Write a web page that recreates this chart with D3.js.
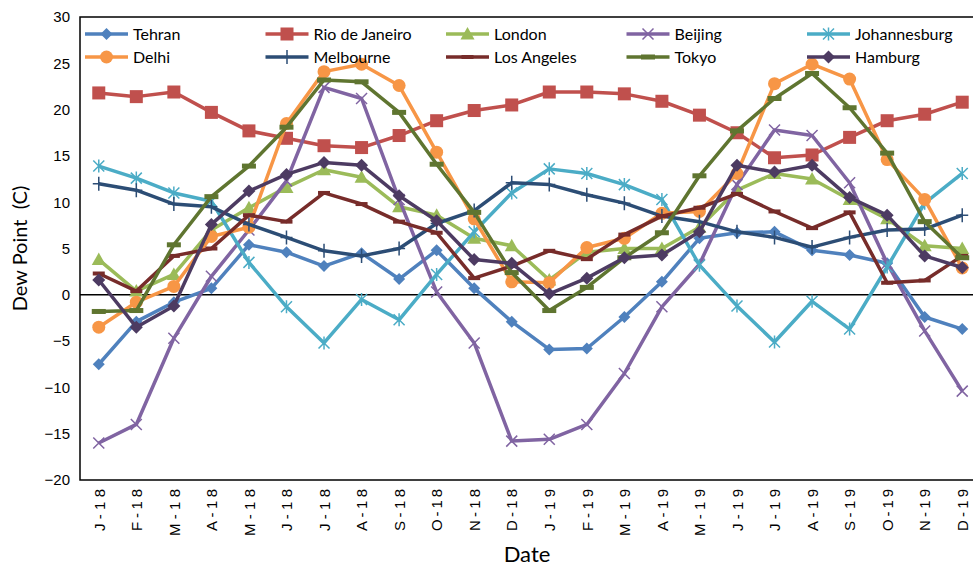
<!DOCTYPE html>
<html>
<head>
<meta charset="utf-8">
<script src="https://cdn.jsdelivr.net/npm/d3@7"></script>
<style>
  body { margin: 0; background: #fff; }
  svg { font-family: "Lato", "Open Sans", sans-serif; }
</style>
</head>
<body>
<svg id="chart"></svg>
<script>
const width = 973;
const height = 567;

const months = ["J-18", "F-18", "M-18", "A-18", "M-18", "J-18", "J-18", "A-18", "S-18", "O-18", "N-18", "D-18",
                "J-19", "F-19", "M-19", "A-19", "M-19", "J-19", "J-19", "A-19", "S-19", "O-19", "N-19", "D-19"];

const cities = ["Tehran", "Rio de Janeiro", "London", "Beijing", "Johannesburg",
                "Delhi", "Melbourne", "Los Angeles", "Tokyo", "Hamburg"];

const tehran = [-7.5, -2.9, -0.8, 0.7, 5.4, 4.6, 3.1, 4.5, 1.7, 4.8, 0.7, -2.9, -5.9, -5.8, -2.4, 1.4, 6.1, 6.7, 6.8, 4.8, 4.3, 3.4, -2.4, -3.7];
const rio = [21.8, 21.4, 21.9, 19.7, 17.7, 16.9, 16.1, 15.9, 17.2, 18.8, 19.9, 20.5, 21.9, 21.9, 21.7, 20.9, 19.4, 17.5, 14.8, 15.1, 17.0, 18.8, 19.5, 20.8];
const london = [3.8, 0.4, 2.2, 7.0, 9.4, 11.6, 13.5, 12.7, 9.5, 8.6, 6.1, 5.3, 1.6, 4.6, 5.0, 5.0, 7.3, 11.3, 13.1, 12.5, 10.3, 8.2, 5.3, 5.0];
const beijing = [-16.0, -14.0, -4.7, 2.0, 7.0, 12.3, 22.4, 21.2, 10.3, 0.3, -5.2, -15.8, -15.6, -14.0, -8.5, -1.3, 3.3, 11.9, 17.8, 17.2, 12.1, 3.4, -3.9, -10.4];
const johannesburg = [13.9, 12.6, 11.0, 10.1, 3.5, -1.3, -5.2, -0.5, -2.7, 2.2, 6.8, 11.0, 13.6, 13.1, 11.9, 10.3, 3.2, -1.2, -5.1, -0.7, -3.7, 3.0, 9.9, 13.1];
const delhi = [-3.5, -0.8, 0.9, 6.3, 7.3, 18.5, 24.1, 24.9, 22.6, 15.4, 8.2, 1.4, 1.3, 5.1, 6.1, 8.8, 9.0, 13.1, 22.8, 24.9, 23.3, 14.6, 10.3, 2.9];
const melbourne = [12.0, 11.3, 9.8, 9.5, 7.6, 6.2, 4.75, 4.2, 5.0, 7.7, 9.1, 12.1, 11.9, 10.8, 9.9, 8.5, 7.9, 6.8, 6.2, 5.15, 6.2, 7.0, 7.1, 8.6];
const losAngeles = [2.3, 0.4, 4.2, 5.0, 8.6, 7.9, 11.0, 9.8, 7.9, 6.7, 1.8, 3.1, 4.75, 3.85, 6.5, 8.5, 9.4, 10.9, 9.0, 7.2, 8.9, 1.3, 1.55, 4.2];
const tokyo = [-1.8, -1.7, 5.4, 10.6, 13.9, 18.1, 23.2, 23.0, 19.7, 14.1, 8.9, 2.4, -1.7, 0.8, 4.0, 6.7, 12.85, 17.7, 21.2, 23.9, 20.2, 15.3, 7.9, 4.0];
const hamburg = [1.6, -3.5, -1.2, 7.6, 11.2, 13.0, 14.3, 14.0, 10.7, 8.0, 3.8, 3.4, 0.1, 1.8, 4.0, 4.3, 6.8, 14.0, 13.25, 14.0, 10.5, 8.6, 4.2, 2.95];

const yTicks = [-20, -15, -10, -5, 0, 5, 10, 15, 20, 25, 30];

const seriesValues = [tehran, rio, london, beijing, johannesburg, delhi, melbourne, losAngeles, tokyo, hamburg];

// look of each series, in the same order as cities
const styles = [
    { color: "#4F81BD", marker: "diamond" },
    { color: "#C0504D", marker: "square" },
    { color: "#9BBB59", marker: "triangle" },
    { color: "#8064A2", marker: "x" },
    { color: "#4BACC6", marker: "star" },
    { color: "#F79646", marker: "circle" },
    { color: "#2C4D75", marker: "plus" },
    { color: "#772C2A", marker: "dash" },
    { color: "#5F7530", marker: "bar" },
    { color: "#4D3B62", marker: "diamond2" }
];

const series = cities.map((name, i) => ({
    name,
    values: seriesValues[i],
    color: styles[i].color,
    marker: styles[i].marker
}));

const plot = { left: 80, top: 17, right: 981, bottom: 480 };

const svg = d3.select("#chart")
    .attr("width", width)
    .attr("height", height);

const x = d3.scalePoint()
    .domain(d3.range(months.length))
    .range([plot.left, plot.right])
    .padding(0.5);

const y = d3.scaleLinear()
    .domain([-20, 30])
    .range([plot.bottom, plot.top]);

// plot frame
svg.append("rect")
    .attr("x", plot.left)
    .attr("y", plot.top)
    .attr("width", plot.right - plot.left)
    .attr("height", plot.bottom - plot.top)
    .attr("fill", "none")
    .attr("stroke", "#000")
    .attr("stroke-width", 1.5);

svg.append("line")
    .attr("x1", plot.left)
    .attr("x2", plot.right)
    .attr("y1", y(0))
    .attr("y2", y(0))
    .attr("stroke", "#000")
    .attr("stroke-width", 1.5);

const yAxis = svg.append("g")
    .attr("transform", `translate(${plot.left},0)`)
    .call(d3.axisLeft(y).tickValues(yTicks).tickSize(0).tickPadding(10));

yAxis.select(".domain").remove();
yAxis.selectAll("text")
    .style("font-size", "15px")
    .attr("fill", "#000");

// month labels: characters stretched apart like the original
const xAxis = svg.append("g")
    .attr("transform", `translate(0,${plot.bottom})`)
    .call(d3.axisBottom(x).tickSize(0).tickFormat(i => months[i]));

xAxis.select(".domain").remove();
xAxis.selectAll("text")
    .attr("transform", "rotate(-90)")
    .attr("x", -9)
    .attr("y", 0)
    .attr("dy", "0.35em")
    .attr("textLength", d => months[d][0] === "M" ? 47 : 42)
    .attr("lengthAdjust", "spacing")
    .style("text-anchor", "end")
    .style("font-size", "15px")
    .attr("fill", "#000");

svg.append("text")
    .attr("transform", "rotate(-90)")
    .attr("x", -(plot.top + plot.bottom) / 2)
    .attr("y", 27)
    .attr("text-anchor", "middle")
    .style("font-size", "20px")
    .style("white-space", "pre")
    .text("Dew Point  (C)");

svg.append("text")
    .attr("x", 527)
    .attr("y", 562)
    .attr("text-anchor", "middle")
    .style("font-size", "22px")
    .text("Date");

function drawMarker(g, type, color) {
    if (type === "diamond" || type === "diamond2") {
        const r = type === "diamond" ? 6 : 6.5;
        g.append("path")
            .attr("d", `M0,${-r}L${r},0L0,${r}L${-r},0Z`)
            .attr("fill", color);
    } else if (type === "square") {
        g.append("rect")
            .attr("x", -6.5).attr("y", -6.5)
            .attr("width", 13).attr("height", 13)
            .attr("fill", color);
    } else if (type === "triangle") {
        g.append("path")
            .attr("d", "M0,-7L7,5.5L-7,5.5Z")
            .attr("fill", color);
    } else if (type === "circle") {
        g.append("circle")
            .attr("r", 6.5)
            .attr("fill", color);
    } else if (type === "x") {
        g.append("path")
            .attr("d", "M-5.5,-5.5L5.5,5.5M-5.5,5.5L5.5,-5.5")
            .attr("stroke", color)
            .attr("stroke-width", 1.5);
    } else if (type === "star") {
        g.append("path")
            .attr("d", "M-5.5,-5.5L5.5,5.5M-5.5,5.5L5.5,-5.5M0,-6.5L0,6.5")
            .attr("stroke", color)
            .attr("stroke-width", 1.5);
    } else if (type === "plus") {
        g.append("path")
            .attr("d", "M-6,0L6,0M0,-7L0,7")
            .attr("stroke", color)
            .attr("stroke-width", 1.5);
    } else if (type === "dash") {
        g.append("rect")
            .attr("x", -6).attr("y", -2)
            .attr("width", 12).attr("height", 4)
            .attr("fill", color);
    } else if (type === "bar") {
        g.append("rect")
            .attr("x", -7).attr("y", -2.5)
            .attr("width", 14).attr("height", 5)
            .attr("fill", color);
    }
}

const line = d3.line()
    .x((d, i) => x(i))
    .y(d => y(d));

series.forEach(s => {
    const g = svg.append("g");

    g.append("path")
        .datum(s.values)
        .attr("d", line)
        .attr("fill", "none")
        .attr("stroke", s.color)
        .attr("stroke-width", 3.5)
        .attr("stroke-linejoin", "round");

    s.values.forEach((v, i) => {
        const m = g.append("g")
            .attr("transform", `translate(${x(i)},${y(v)})`);
        drawMarker(m, s.marker, s.color);
    });
});

// legend: two rows of five
const legend = svg.append("g");

series.forEach((s, i) => {
    const col = i % 5;
    const row = Math.floor(i / 5);
    const lx = 85 + col * 180.5;
    const ly = 34 + row * 23;

    const item = legend.append("g")
        .attr("transform", `translate(${lx},${ly})`);

    item.append("line")
        .attr("x1", 0).attr("x2", 43)
        .attr("y1", 0).attr("y2", 0)
        .attr("stroke", s.color)
        .attr("stroke-width", 3.5);

    drawMarker(item.append("g").attr("transform", "translate(21.5,0)"), s.marker, s.color);

    item.append("text")
        .attr("x", 48)
        .attr("y", 0)
        .attr("dy", "0.35em")
        .style("font-size", "16px")
        .text(s.name);
});
</script>
</body>
</html>
